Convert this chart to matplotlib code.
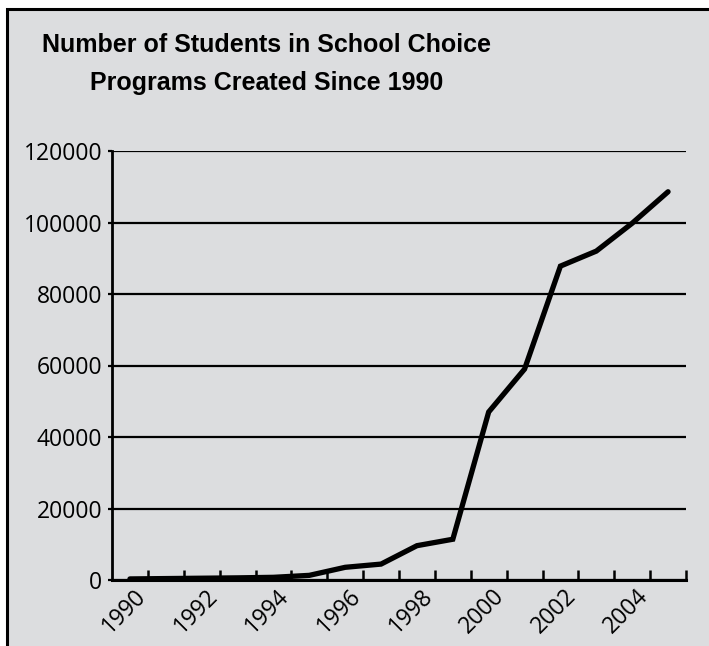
import numpy as np
import matplotlib
matplotlib.use("Agg")
import matplotlib.pyplot as plt
from matplotlib.patches import Rectangle
from matplotlib.transforms import ScaledTranslation

# data (students in choice programs by year)
years = list(range(1990, 2006))
students = [300, 400, 500, 600, 750, 1300, 3550, 4450, 9600, 11400,
            47000, 59000, 87800, 92000, 99800, 108600]
year_labels = ["1990", "1992", "1994", "1996", "1998", "2000", "2002", "2004"]
y_ticks = [0, 20000, 40000, 60000, 80000, 100000, 120000]
title_lines = ["Number of Students in School Choice", "Programs Created Since 1990"]

bg = "#dcdddf"
W, H = 709, 646

plt.rcParams['font.family'] = ['Open Sans', 'DejaVu Sans']

fig = plt.figure(figsize=(W / 100, H / 100), dpi=100, facecolor="white")

# grey panel with black border (runs off the right/bottom edge)
fig.patches.append(Rectangle((7 / W, -0.1), 1.2, 1.1 - 9 / H,
                             transform=fig.transFigure, facecolor=bg,
                             edgecolor="black", lw=2.2, zorder=-5))

ax = fig.add_axes([112 / W, 1 - 580 / H, (686 - 112) / W, (580 - 151) / H])
ax.set_facecolor("none")
ax.set_zorder(2)

x = np.arange(len(years))
ax.plot(x, students, color="black", lw=3.8, solid_capstyle="round",
        solid_joinstyle="miter", zorder=3)

ax.set_xlim(-0.5, len(years) - 0.5)
ax.set_ylim(0, 120000)

ax.set_yticks(y_ticks)
ax.set_yticklabels([str(v) for v in y_ticks], fontsize=16.5)
ax.grid(axis="y", color="black", lw=1.6)
ax.set_axisbelow(True)
ax.tick_params(axis="y", direction="out", length=3, width=1.6, pad=4)

ax.set_xticks(x[::2])
ax.set_xticklabels(year_labels, fontsize=16.5, rotation=45, ha="center")
ax.tick_params(axis="x", which="major", length=0, pad=3)
ax.set_xticks(np.arange(0.5, len(years), 1), minor=True)
ax.tick_params(axis="x", which="minor", direction="in", length=7.5, width=1.8)
shift = ScaledTranslation(-6 / 100, 0, fig.dpi_scale_trans)
for lab in ax.get_xticklabels():
    lab.set_transform(lab.get_transform() + shift)

for s in ["top", "right"]:
    ax.spines[s].set_visible(False)
ax.spines["left"].set_linewidth(2)
ax.spines["bottom"].set_linewidth(2.2)

for line, base in zip(title_lines, [52, 90]):
    fig.text(267 / W, 1 - base / H, line, ha="center", va="baseline",
             fontsize=18, fontweight="bold",
             family=["Liberation Sans Narrow", "Liberation Sans"])

fig.savefig("out.png", dpi=100, facecolor="white")
